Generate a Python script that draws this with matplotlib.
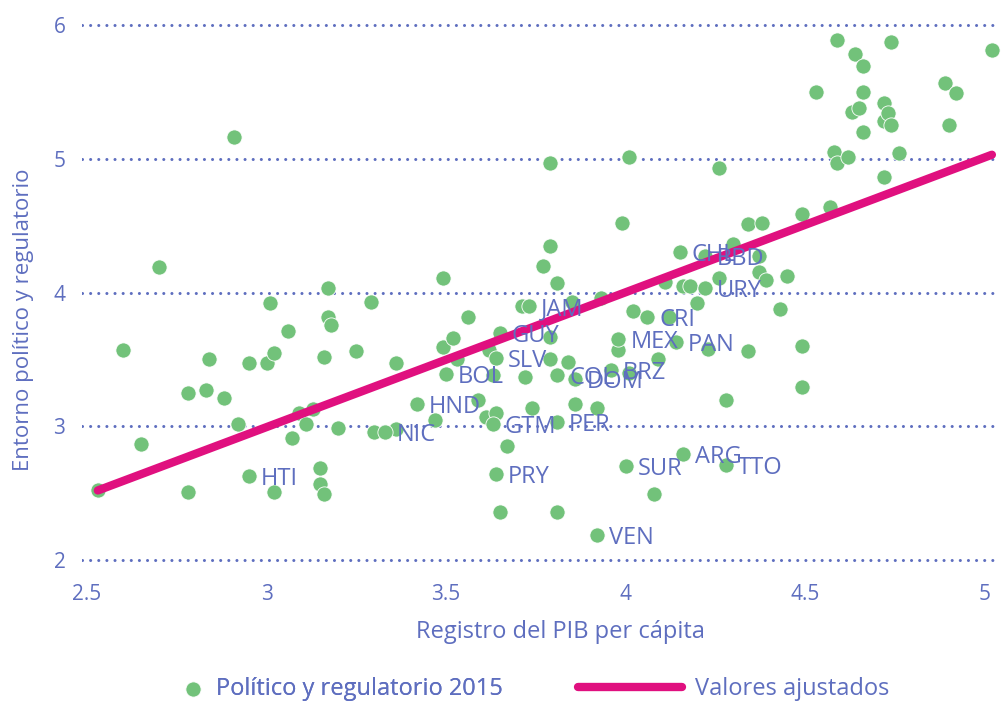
import matplotlib.pyplot as plt
from matplotlib.lines import Line2D

plt.rcParams['font.family'] = ['Open Sans', 'DejaVu Sans']

AZUL = '#5e6ebf'
VERDE = '#72c27a'
MAGENTA = '#e0107f'

# Paises de America Latina y el Caribe (con etiqueta)
paises = ['HTI', 'NIC', 'HND', 'BOL', 'SLV', 'GTM', 'PRY', 'GUY', 'JAM', 'COL',
          'PER', 'DOM', 'VEN', 'BRZ', 'MEX', 'SUR', 'CRI', 'PAN', 'CHL', 'ARG',
          'URY', 'BBD', 'TTO']
paises_pib = [2.95, 3.33, 3.42, 3.50, 3.64, 3.63, 3.64, 3.65, 3.73, 3.81,
              3.81, 3.86, 3.92, 3.96, 3.98, 4.00, 4.06, 4.14, 4.15, 4.16,
              4.22, 4.22, 4.28]
paises_entorno = [2.63, 2.96, 3.17, 3.39, 3.51, 3.02, 2.64, 3.70, 3.90, 3.38,
                  3.03, 3.35, 2.19, 3.42, 3.65, 2.70, 3.82, 3.63, 4.30, 2.79,
                  4.03, 4.27, 2.71]

# Resto de paises (sin etiqueta)
otros_pib = [2.53, 2.60, 2.65, 2.70, 2.78, 2.78, 2.83, 2.84, 2.88, 2.91,
             2.92, 2.95, 3.00, 3.01, 3.02, 3.02, 3.06, 3.07, 3.09, 3.11,
             3.13, 3.15, 3.15, 3.16, 3.16, 3.17, 3.17, 3.18, 3.20, 3.25,
             3.29, 3.30, 3.36, 3.36, 3.47, 3.49, 3.49, 3.52, 3.53, 3.56,
             3.59, 3.61, 3.62, 3.63, 3.64, 3.65, 3.67, 3.71, 3.72, 3.74,
             3.77, 3.79, 3.79, 3.79, 3.79, 3.81, 3.81, 3.84, 3.85, 3.86,
             3.92, 3.93, 3.98, 3.99, 4.01, 4.01, 4.02, 4.08, 4.09, 4.11,
             4.12, 4.16, 4.18, 4.20, 4.23, 4.26, 4.26, 4.28, 4.30, 4.34,
             4.34, 4.37, 4.37, 4.38, 4.39, 4.43, 4.45, 4.49, 4.49, 4.49,
             4.53, 4.57, 4.58, 4.59, 4.59, 4.62, 4.63, 4.64, 4.65, 4.66,
             4.66, 4.66, 4.72, 4.72, 4.72, 4.73, 4.74, 4.74, 4.76, 4.89,
             4.90, 4.92, 5.02]
otros_entorno = [2.52, 3.57, 2.87, 4.19, 3.25, 2.51, 3.27, 3.50, 3.21, 5.16,
                 3.02, 3.47, 3.47, 3.92, 3.55, 2.51, 3.71, 2.91, 3.10, 3.02,
                 3.13, 2.69, 2.57, 2.49, 3.52, 4.03, 3.82, 3.76, 2.99, 3.56,
                 3.93, 2.96, 3.47, 2.98, 3.05, 4.11, 3.59, 3.66, 3.50, 3.82,
                 3.20, 3.07, 3.57, 3.38, 3.10, 2.36, 2.85, 3.90, 3.37, 3.14,
                 4.20, 4.97, 4.35, 3.67, 3.50, 4.07, 2.36, 3.48, 3.93, 3.17,
                 3.14, 3.96, 3.57, 4.52, 5.01, 3.40, 3.86, 2.49, 3.50, 4.08,
                 3.82, 4.05, 4.05, 3.92, 3.58, 4.93, 4.11, 3.20, 4.36, 3.56,
                 4.51, 4.27, 4.15, 4.52, 4.09, 3.88, 4.12, 4.59, 3.60, 3.29,
                 5.50, 4.64, 5.05, 5.89, 4.97, 5.01, 5.35, 5.78, 5.38, 5.69,
                 5.50, 5.20, 5.42, 5.28, 4.86, 5.34, 5.25, 5.87, 5.04, 5.57,
                 5.25, 5.49, 5.81]

# Recta de valores ajustados
ajuste_pib = [2.53, 5.02]
ajuste_entorno = [2.52, 5.03]

xticks = [2.5, 3, 3.5, 4, 4.5, 5]
xtick_labels = ['2.5', '3', '3.5', '4', '4.5', '5']
yticks = [2, 3, 4, 5, 6]
ytick_labels = ['2', '3', '4', '5', '6']

fig = plt.figure(figsize=(10.03, 7.02), dpi=100)
ax = fig.add_axes([0.0818, 0.1937, 0.915, 0.7806])

puntos = ax.scatter(otros_pib + paises_pib, otros_entorno + paises_entorno,
                    s=120, color=VERDE, edgecolor='white', linewidth=0.6,
                    zorder=3, label='Político y regulatorio 2015')
linea, = ax.plot(ajuste_pib, ajuste_entorno, color=MAGENTA, linewidth=6,
                 solid_capstyle='round', zorder=4, label='Valores ajustados')

for cod, px, py in zip(paises, paises_pib, paises_entorno):
    ax.annotate(cod, (px, py), xytext=(8.5, 0), textcoords='offset points',
                va='center_baseline', ha='left', fontsize=17, color=AZUL,
                zorder=5)

ax.set_xlim(2.486, 5.042)
ax.set_ylim(1.955, 6.052)
ax.set_xticks(xticks, xtick_labels)
ax.set_yticks(yticks, ytick_labels)
ax.tick_params(length=0, labelsize=15, colors=AZUL)
ax.tick_params(axis='x', pad=13)
ax.tick_params(axis='y', pad=12)
for s in ax.spines.values():
    s.set_visible(False)
ax.grid(axis='y', color=AZUL, linewidth=2.2, linestyle=(0, (0.01, 2.65)),
        dash_capstyle='round', zorder=0)
ax.set_axisbelow(True)

ax.set_xlabel('Registro del PIB per cápita', fontsize=17, color=AZUL)
ax.xaxis.set_label_coords(0.521, -0.098)
ax.set_ylabel('Entorno político y regulatorio', fontsize=16, color=AZUL)
ax.yaxis.set_label_coords(-0.052, 0.45)

# leyenda en dos partes (marcador corto, linea larga)
ley1 = fig.legend(handles=[puntos], loc='center left',
                  bbox_to_anchor=(0.182, 0.018), frameon=False, fontsize=17,
                  labelcolor=AZUL, handlelength=0.9, handletextpad=0.5,
                  borderpad=0, borderaxespad=0, scatterpoints=1)
fig.legend(handles=[Line2D([], [], color=MAGENTA, linewidth=6,
                           solid_capstyle='round')],
           labels=['Valores ajustados'], loc='center left',
           bbox_to_anchor=(0.576, 0.018), frameon=False, fontsize=17,
           labelcolor=AZUL, handlelength=4.4, handletextpad=0.55,
           borderpad=0, borderaxespad=0)
fig.add_artist(ley1)

fig.savefig('out.png', dpi=100)
